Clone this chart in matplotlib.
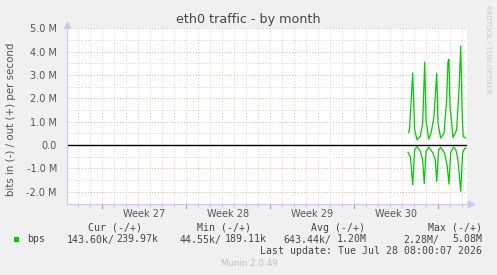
import numpy as np
import matplotlib
matplotlib.use("Agg")
import matplotlib.pyplot as plt
from matplotlib.patches import Rectangle

# data: days counted from the Monday of week 27, values in Mbit/s
out_days = [25.58, 25.65, 25.92, 26.08, 26.28, 26.55, 26.75, 26.92, 27.03, 27.25,
            27.44, 27.69, 27.92, 28.03, 28.25, 28.53, 28.75, 28.86, 28.94, 29.03,
            29.28, 29.58, 29.78, 29.92, 30.05, 30.13, 30.33]
out_bps = [0.54, 0.65, 3.08, 0.65, 0.23, 0.37, 0.94, 3.55, 1.08, 0.26,
           0.50, 1.20, 3.08, 0.94, 0.30, 0.51, 1.94, 3.57, 3.67, 1.65,
           0.32, 0.65, 2.36, 4.24, 1.22, 0.37, 0.30]

in_days = [25.53, 25.72, 25.92, 26.08, 26.28, 26.55, 26.75, 26.88, 27.03, 27.25,
           27.58, 27.80, 27.92, 28.08, 28.25, 28.58, 28.80, 28.94, 29.08, 29.30,
           29.50, 29.69, 29.92, 30.08, 30.25, 30.36]
in_bps = [0.31, 0.49, 1.70, 0.20, 0.06, 0.27, 0.63, 1.65, 0.27, 0.09,
          0.31, 0.63, 1.55, 0.20, 0.09, 0.34, 0.91, 1.67, 0.34, 0.09,
          0.17, 0.63, 1.98, 0.34, 0.13, 0.13]

y_ticks = [-2, -1, 0, 1, 2, 3, 4, 5]
y_labels = ['-2.0 M', '-1.0 M', '0.0', '1.0 M', '2.0 M', '3.0 M', '4.0 M', '5.0 M']
week_labels = ['Week 27', 'Week 28', 'Week 29', 'Week 30']

W, H = 497, 275
def fx(x): return x / W
def fy(y): return 1 - y / H

#----------------------------------------
fig = plt.figure(figsize=(W / 100, H / 100), dpi=100, facecolor='#F0F0F0')
ax = fig.add_axes([fx(66.7), fy(203.5), (466.7 - 66.7) / W, (203.5 - 28.3) / H])
ax.set_facecolor('white')
ax.set_xlim(-2.92, 30.42)
ax.set_ylim(-2.5, 5.0)

grey = '#D0D0D0'
red = '#E8A8A8'
dots = (0, (1, 2))
for d in range(-2, 31):
    ax.axvline(d, color=grey, ls=dots, lw=0.7, zorder=1)
for v in np.arange(-2.5, 5.01, 0.5):
    ax.axhline(v, color=red if v == int(v) else grey, ls=dots, lw=0.7, zorder=1)
ax.axhline(0, color='black', lw=1.0, zorder=2)

ax.plot(out_days, out_bps, color='#00CC00', lw=0.9, zorder=3)
ax.plot(in_days, -np.array(in_bps), color='#00CC00', lw=0.9, zorder=3)

ax.set_yticks(y_ticks)
ax.set_yticklabels(y_labels)
ax.set_xticks([3.5, 10.5, 17.5, 24.5])
ax.set_xticklabels(week_labels)
ax.tick_params(axis='both', length=0, labelsize=7, colors='#555555', pad=7)
ax.tick_params(axis='x', pad=4)
ax.set_xticks(range(-2, 31), minor=True)
ax.tick_params(axis='x', which='minor', length=2, color='#C0C0C0', direction='out')
# red week marks under the axis
for d in [0, 7, 14, 21, 28]:
    ax.plot([d, d], [0, -0.025], transform=ax.get_xaxis_transform(), color='#E08080',
            lw=0.8, clip_on=False)

for s in ['top', 'right']:
    ax.spines[s].set_visible(False)
ax.spines['left'].set_color('#C8C8F0')
ax.spines['bottom'].set_color('#C8C8F0')
ax.plot([1.0, 1.01], [0, 0], transform=ax.transAxes, color='#C8C8F0', lw=0.8, clip_on=False)
ax.plot([0, 0], [1.0, 1.02], transform=ax.transAxes, color='#C8C8F0', lw=0.8, clip_on=False)
ax.plot(1.01, 0, marker='>', ms=4, color='#C8C8F0', transform=ax.transAxes, clip_on=False)
ax.plot(0, 1.02, marker='^', ms=4, color='#C8C8F0', transform=ax.transAxes, clip_on=False)

fig.text(fx(248), fy(20), 'eth0 traffic - by month', ha='center', va='center', fontsize=9.2, color='#444444')
fig.text(fx(11), fy(119.5), 'bits in (-) / out (+) per second', ha='center', va='center',
         rotation=90, fontsize=7.4, color='#555555')
fig.text(fx(488), fy(5), 'RRDTOOL / TOBI OETIKER', ha='center', va='top', rotation=270,
         fontsize=5, color='#C8C8C8')

mono = dict(family='DejaVu Sans Mono', fontsize=7.1, color='#444444', va='center')
fig.text(fx(141.7), fy(228), 'Cur (-/+)', ha='right', **mono)
fig.text(fx(251), fy(228), 'Min (-/+)', ha='right', **mono)
fig.text(fx(365), fy(228), 'Avg (-/+)', ha='right', **mono)
fig.text(fx(482.3), fy(228), 'Max (-/+)', ha='right', **mono)

fig.patches.append(Rectangle((fx(14), fy(242)), 5 / W, 5 / H, transform=fig.transFigure,
                             facecolor='#00CC00', edgecolor='none'))
fig.text(fx(26.7), fy(239.5), 'bps', ha='left', **mono)
fig.text(fx(66.7), fy(239.5), '143.60k/', ha='left', **mono)
fig.text(fx(158.5), fy(239.5), '239.97k', ha='right', **mono)
fig.text(fx(180), fy(239.5), '44.55k/', ha='left', **mono)
fig.text(fx(267), fy(239.5), '189.11k', ha='right', **mono)
fig.text(fx(283.3), fy(239.5), '643.44k/', ha='left', **mono)
fig.text(fx(367), fy(239.5), '1.20M', ha='right', **mono)
fig.text(fx(403.3), fy(239.5), '2.28M/', ha='left', **mono)
fig.text(fx(482.3), fy(239.5), '5.08M', ha='right', **mono)
fig.text(fx(482.3), fy(251.5), 'Last update: Tue Jul 28 08:00:07 2026', ha='right', **mono)

fig.text(fx(249), fy(264), 'Munin 2.0.49', ha='center', va='center', fontsize=6.3, color='#C0C0C0')

fig.savefig('out.png', dpi=100, facecolor=fig.get_facecolor())
